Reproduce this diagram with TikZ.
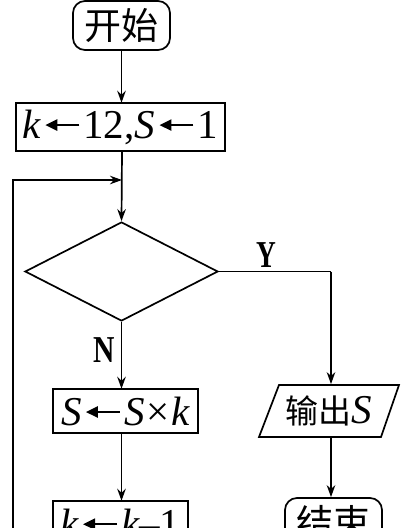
\documentclass[tikz,border=0pt]{standalone}
\usepackage{fontspec}
\usepackage{graphicx}
\setmainfont{Liberation Serif}
\newfontfamily\cjk{Noto Sans CJK SC}
\usetikzlibrary{shapes.geometric,arrows.meta}
\newcommand{\ik}{{\rmfamily\itshape k}}
\newcommand{\iS}{{\rmfamily\itshape S}}
\newcommand{\lar}{\hspace{3pt}\tikz[baseline=-13pt]{\draw[line width=2.4pt,-{Triangle[length=12pt,width=11pt]}] (0pt,0pt) -- (-34pt,0pt);}\hspace{3pt}}
\begin{document}
\begin{tikzpicture}[x=1pt,y=-1pt,line width=1.7pt,
  lbl/.style={font=\fontsize{41}{43}\selectfont},
  cjkl/.style={font=\cjk\fontsize{37}{39}\selectfont},
  procbox/.style={draw,rectangle,inner sep=0pt,lbl},
  termbox/.style={draw,rectangle,rounded corners=12pt,inner sep=0pt,cjkl},
  arr/.style={-{Stealth[length=12pt,width=8.5pt]}},
  yn/.style={font=\bfseries\fontsize{38}{40}\selectfont,inner sep=0pt}]
\useasboundingbox (0,0) rectangle (407,528);
\clip (0,0) rectangle (407,528);
% nodes
\node[termbox,minimum width=97pt,minimum height=49pt] (start) at (121.5,25.5) {开始};
\node[procbox,minimum width=209pt,minimum height=48pt] (init) at (120.5,127) {\ik\lar12,\iS\lar1};
\coordinate (join) at (122,180);
\node[draw,diamond,minimum width=193pt,minimum height=99pt,inner sep=0pt] (cond) at (121.5,271.5) {};
\node[yn] (Y) at (266,255) {\scalebox{0.72}[1]{Y}};
\node[yn] (N) at (104,350) {\scalebox{0.78}[1]{N}};
\coordinate (corner) at (331,271.5);
\node[inner sep=0pt,minimum width=120pt,minimum height=52pt,font=\cjk\fontsize{33}{35}\selectfont] (out) at (329,411) {输出{\fontsize{41}{43}\selectfont\iS}};
\draw (out.center) ++(-50,-26) -- ++(120,0) -- ++(-18,52) -- ++(-122,0) -- cycle;
\node[procbox,minimum width=145pt,minimum height=44pt] (p1) at (125.5,411) {\iS\lar\iS\hspace{2pt}×\hspace{2pt}\ik};
\node[procbox,minimum width=135pt,minimum height=44pt] (p2) at (120.5,523) {\ik\lar\ik–1};
\node[termbox,minimum width=97pt,minimum height=49pt] (end) at (333.5,522.5) {结束};
\coordinate (loopbot) at (13,530);
\coordinate (looptop) at (13,180);
% connectors
\draw[arr] (start.south) -- (start.south |- init.north);
\draw[arr] (init.south -| join) -- (cond.north);
\draw[arr] (loopbot) -- (looptop) -- (join);
\draw (cond.east) -- (corner);
\draw[arr] (corner) -- (corner |- out.north);
\draw[arr] (cond.south) -- (cond.south |- p1.north);
\draw[arr] (p1.south -| cond.south) -- (cond.south |- p2.north);
\draw[arr] (corner |- out.south) -- (corner |- end.north);
\end{tikzpicture}
\end{document}
